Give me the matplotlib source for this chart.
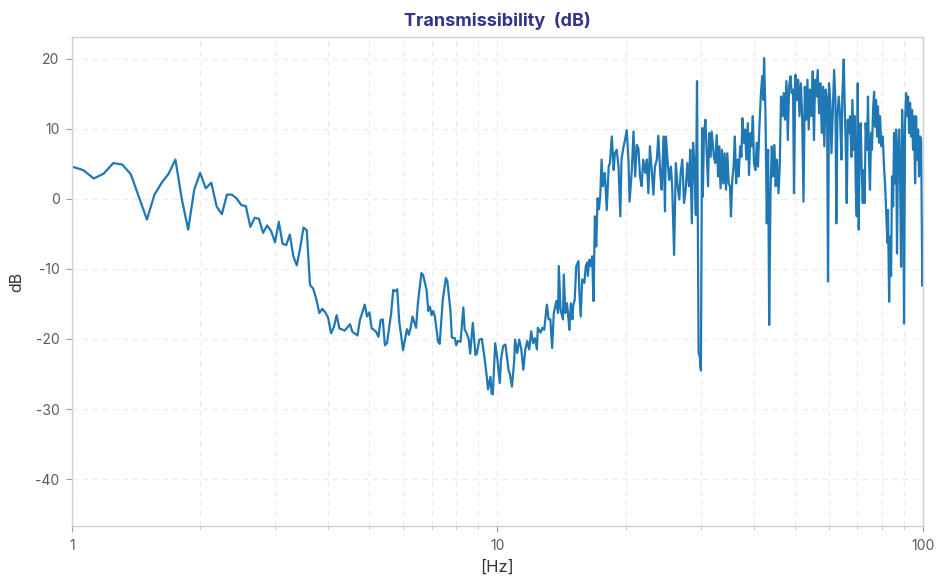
import matplotlib
matplotlib.use("Agg")
import matplotlib.pyplot as plt
from matplotlib.ticker import LogLocator, NullFormatter, FixedLocator, FixedFormatter

plt.rcParams['font.family'] = ['Inter', 'DejaVu Sans']
plt.rcParams['axes.unicode_minus'] = False

# ---- data ----
freq_low = [1.0, 1.0625, 1.125, 1.1875, 1.25, 1.3125, 1.375, 1.5, 1.5625, 1.625, 1.6875, 1.75,
            1.8125, 1.875, 1.9375, 2.0, 2.0625, 2.125, 2.1875, 2.25, 2.3125, 2.375, 2.4375, 2.5,
            2.5625, 2.625, 2.6875, 2.75, 2.8125, 2.875, 2.9375, 3.0, 3.0625, 3.125, 3.1875, 3.25,
            3.3125, 3.375, 3.4375, 3.5, 3.5625, 3.625, 3.6875, 3.75, 3.8125, 3.875, 3.9375, 4.0]
db_low = [4.6, 4.1, 2.9, 3.6, 5.1, 4.9, 3.5, -2.95, 0.6, 2.3, 3.6, 5.6,
          -0.1, -4.4, 1.3, 3.7, 1.5, 2.3, -1.1, -2.2, 0.6, 0.6, 0.05, -0.9,
          -1.05, -4.0, -2.7, -2.86, -4.86, -3.8, -4.6, -6.2, -3.3, -6.4, -6.6, -5.1,
          -8.2, -9.5, -7.0, -4.1, -4.5, -12.3, -12.8, -14.3, -16.3, -15.7, -16.2, -17.0]

freq_mid = [4.0625, 4.125, 4.1875, 4.25, 4.375, 4.5, 4.5625, 4.6875, 4.75, 4.875, 4.9375, 5.0,
            5.0625, 5.125, 5.1875, 5.25, 5.3125, 5.375, 5.4375, 5.5, 5.625, 5.6875, 5.75, 5.8125,
            5.875, 6.0, 6.125, 6.1875, 6.25, 6.3125, 6.4375, 6.5, 6.625, 6.6875, 6.8125, 6.875,
            6.9375, 7.0, 7.0625, 7.125, 7.25, 7.3125, 7.4375, 7.5625, 7.625, 7.75, 7.8125, 7.9375,
            8.0, 8.0625, 8.1875, 8.3125, 8.375, 8.4375, 8.5625, 8.625, 8.75, 8.8125, 8.875, 8.9375,
            9.0625, 9.1875, 9.3125, 9.4375, 9.5, 9.625, 9.6875, 9.75, 9.875]
db_mid = [-19.2, -18.3, -16.6, -18.5, -18.8, -17.9, -19.0, -19.5, -17.3, -15.1, -16.8, -16.2,
          -18.5, -18.7, -19.0, -19.7, -17.3, -17.2, -20.9, -20.6, -16.3, -13.0, -13.2, -12.9,
          -17.5, -21.6, -18.6, -19.4, -18.4, -16.8, -18.4, -14.9, -10.6, -10.9, -13.0, -16.0,
          -15.4, -16.6, -16.0, -16.8, -20.4, -20.7, -14.4, -11.3, -11.8, -15.9, -19.8, -19.9,
          -20.9, -20.3, -20.4, -15.5, -18.7, -19.0, -20.1, -22.1, -17.7, -20.1, -22.3, -22.1,
          -20.1, -20.0, -22.5, -25.4, -27.2, -25.4, -27.8, -27.9, -20.6]

freq_rise = [10.0, 10.125, 10.1875, 10.3125, 10.4375, 10.625, 10.6875, 10.8125, 10.9375, 11.0,
             11.125, 11.25, 11.375, 11.5, 11.625, 11.75, 11.875, 12.0, 12.125, 12.25, 12.375,
             12.4375, 12.625, 12.75, 12.875, 13.0625, 13.1875, 13.3125, 13.4375, 13.5625, 13.75,
             13.875, 13.9375, 14.0625, 14.25, 14.3125, 14.4375, 14.5625, 14.6875, 14.75, 14.875,
             15.0, 15.0625, 15.1875, 15.3125, 15.5, 15.5625, 15.6875, 15.8125, 16.0, 16.125,
             16.25, 16.3125, 16.4375, 16.5625, 16.6875, 16.8125, 16.9375, 17.0625, 17.1875,
             17.3125, 17.4375, 17.5625, 17.6875, 17.8125]
db_rise = [-23.0, -26.3, -23.0, -21.0, -20.8, -24.6, -24.9, -26.8, -23.4, -20.1,
           -22.0, -20.1, -21.5, -24.4, -21.5, -20.3, -21.5, -18.9, -20.6, -19.9, -21.5,
           -18.4, -19.1, -18.4, -18.7, -15.1, -17.2, -17.2, -21.3, -16.3, -14.6,
           -16.3, -9.6, -15.8, -17.2, -10.8, -16.3, -14.9, -17.2, -18.7, -14.9,
           -17.2, -15.3, -14.4, -9.6, -8.9, -13.0, -16.8, -11.5, -12.0, -9.6,
           -9.1, -11.0, -8.7, -9.6, -8.2, -14.6, -2.5, -6.8, 0.1,
           -1.5, 0.4, 5.6, 1.8, 3.2]

freq_band1 = [17.875, 18.0625, 18.25, 18.375, 18.5625, 18.75, 18.875, 19.0625, 19.25, 19.4375,
              19.5625, 19.75, 19.9375, 20.125, 20.3125, 20.4375, 20.6875, 20.875, 21.0625, 21.25,
              21.4375, 21.625, 21.8125, 22.0, 22.25, 22.4375, 22.625, 22.8125, 23.0625, 23.25,
              23.4375, 23.6875, 23.875, 24.125, 24.3125, 24.5625, 24.75, 24.875, 25.125, 25.3125,
              25.5625, 25.75, 26.0, 26.25, 26.5, 26.75, 26.9375, 27.1875, 27.4375, 27.6875,
              27.9375, 28.1875, 28.375, 28.625, 28.8125, 29.0, 29.25, 29.4375, 29.6875, 29.875,
              30.0625, 30.25, 30.375]
db_band1 = [3.7, -1.6, 4.6, 5.1, 8.9, 4.1, 6.5, 7.0, 4.6, -2.5,
            5.6, 7.2, 8.4, 9.8, 5.6, -0.4, 4.1, 9.6, 3.2, 7.7,
            7.2, 3.2, 1.8, 5.6, 3.7, 5.6, 0.8, 7.5, 3.7, 0.6,
            4.6, 5.6, 9.0, 3.7, 1.3, 8.9, -1.8, 8.9, 5.1, 2.7,
            4.6, 1.3, -8.0, 5.1, 1.8, -0.1, 3.7, 5.6, -0.6, 1.3,
            5.1, 1.8, 7.0, -3.5, 8.0, 5.6, -2.3, 16.8, -22.0, -22.5,
            -24.5, 10.1, 0.3]

freq_band2 = [30.5625, 30.8125, 31.0, 31.25, 31.4375, 31.6875, 31.875, 32.25, 32.5, 32.75,
              33.0, 33.1875, 33.4375, 33.6875, 33.9375, 34.1875, 34.4375, 34.6875, 34.9375,
              35.1875, 35.375, 35.625, 35.875, 36.125, 36.375, 36.625, 36.875, 37.1875, 37.4375,
              37.625, 37.9375, 38.1875, 38.4375, 38.75, 39.0, 39.3125, 39.5625, 39.8125, 40.0625,
              40.375, 40.6875, 40.9375, 41.25, 41.5625, 41.875, 42.1875, 42.3125, 42.625, 42.9375,
              43.25, 43.5, 43.8125, 44.125, 44.4375, 44.75, 45.0625, 45.375, 45.75, 46.0625,
              46.375, 46.75, 47.0625, 47.375, 47.75, 48.125, 48.4375, 48.8125, 49.125, 49.5,
              49.75, 50.125, 50.5, 50.875, 51.25, 51.625, 52.0, 52.375, 52.75, 53.125, 53.5,
              53.875]
db_band2 = [9.4, 11.3, 7.0, 1.8, 9.4, 6.0, 9.6, 6.0, 5.1, 9.1,
            3.2, 7.5, 1.5, 7.0, 2.2, 6.5, 1.3, 6.5, 2.2,
            1.8, -2.5, 2.7, 4.6, 8.9, 2.2, 5.6, 3.2, 7.5, 6.0,
            11.5, 8.0, 9.9, 5.6, 10.8, 3.4, 9.4, 7.5, 11.8, 5.1,
            4.1, 8.0, 4.6, 10.1, 14.6, 17.5, 14.1, 20.1, 12.7, -3.5,
            7.0, -18.0, 0.8, 7.5, 3.2, 7.7, 1.8, 5.6, 0.8, 4.6,
            14.6, 11.8, 15.1, 11.3, 16.8, 8.4, 16.0, 17.5, 15.1, 15.6,
            0.8, 17.7, 14.1, 17.0, 11.8, 16.5, 11.8, -0.4, 16.0, 11.3, 17.0,
            9.9]

freq_band3 = [54.25, 54.6875, 55.0625, 55.4375, 55.75, 56.125, 56.5625, 57.0, 57.375, 57.8125,
              58.25, 58.625, 59.0625, 59.5, 59.8125, 60.125, 60.5625, 60.9375, 61.375, 61.8125,
              62.25, 62.5625, 62.9375, 63.375, 63.8125, 64.3125, 64.625, 65.125, 65.5, 65.8125,
              66.1875, 66.5625, 67.0, 67.375, 67.875, 68.25, 68.75, 69.125, 69.5, 69.875,
              70.25, 70.625, 71.0, 71.375, 71.75, 72.1875, 72.5625, 72.9375, 73.3125, 73.875,
              74.25, 74.6875, 75.0625, 75.5, 75.875, 76.3125, 76.75, 77.125, 77.5625, 78.0,
              78.375, 78.8125, 79.25, 79.8125, 80.4375, 81.0, 81.5625, 82.0, 82.5, 82.75,
              83.25, 83.6875, 84.125, 84.5625, 85.0625, 85.5, 86.0, 86.4375, 86.875, 87.375,
              87.875, 88.3125, 88.8125, 89.3125, 89.75, 90.25, 90.75, 91.25, 91.75, 92.25,
              92.75, 93.25, 93.75, 94.25, 94.75, 95.25, 95.8125, 96.3125, 96.875, 97.375,
              97.875, 98.4375, 99.0, 99.625, 100.0]
db_band3 = [15.6, 11.8, 18.2, 8.4, 17.0, 14.6, 18.4, 12.2, 16.5, 9.4,
            16.0, 7.5, 15.6, 14.1, -11.8, 16.5, 13.7, 6.5, 12.7, 18.4,
            14.1, -3.5, 11.8, 14.6, 12.2, 5.6, 14.6, 19.9, 12.7, 8.0,
            -0.6, 11.3, 9.4, 11.8, 6.0, 14.1, 7.0, 11.8, 1.8, -2.5,
            16.5, -4.4, 8.0, 10.8, 4.6, -0.6, 4.1, -0.6, 10.8, 7.0,
            14.6, 5.1, 1.3, 9.4, 7.0, 12.7, 15.3, 10.3, 14.1, 8.9,
            13.2, 8.0, 11.8, 7.5, 8.9, 4.6, 1.3, -2.5, -6.3, -1.6,
            -14.7, -5.4, -11.0, 3.2, -1.1, 9.4, 2.2, 9.9, -7.8, 7.0,
            9.9, 3.7, -9.7, 12.7, 7.0, -17.8, 10.8, 15.1, 11.8, 14.6,
            9.4, 13.7, 8.9, 12.7, 7.0, 11.8, 2.2, 11.8, 5.6, 9.9,
            3.2, 8.9, 8.4, -12.4, -3.0]

freq = freq_low + freq_mid + freq_rise + freq_band1 + freq_band2 + freq_band3
db = db_low + db_mid + db_rise + db_band1 + db_band2 + db_band3

y_ticks = [-40, -30, -20, -10, 0, 10, 20]
x_tick_labels = ["1", "10", "100"]

# ---- figure ----
fig = plt.figure(figsize=(9.48, 5.87), dpi=100)
ax = fig.add_axes([72/948, 1-526/587, (923-72)/948, (526-37)/587])

ax.plot(freq, db, color='#1f77b4', linewidth=1.6)

ax.set_xscale('log')
ax.set_xlim(1, 100)
ax.set_ylim(-46.7, 23.1)

ax.xaxis.set_major_locator(FixedLocator([1, 10, 100]))
ax.xaxis.set_major_formatter(FixedFormatter(x_tick_labels))
ax.xaxis.set_minor_locator(LogLocator(base=10, subs=range(2, 10)))
ax.xaxis.set_minor_formatter(NullFormatter())
ax.set_yticks(y_ticks)

ax.grid(True, which='major', color='#ececf0', linestyle=(0, (5, 4)), linewidth=0.8)
ax.grid(True, which='minor', axis='x', color='#ececf0', linestyle=(0, (5, 4)), linewidth=0.8)
ax.set_axisbelow(True)

for s in ax.spines.values():
    s.set_color('#cfcfd6')
    s.set_linewidth(1.0)

ax.tick_params(axis='both', which='major', length=4, width=0.8, color='#9a9aa0',
               labelsize=10, labelcolor='#5a5a60', pad=5)
ax.tick_params(axis='x', which='minor', length=2.5, width=0.6, color='#b0b0b6')

ax.set_xlabel('[Hz]', fontsize=12, color='#333333', labelpad=5)
ax.set_ylabel('dB', fontsize=11.5, color='#333333', labelpad=8)
ax.set_title('Transmissibility  (dB)', fontsize=13, fontweight='bold', color='#33338a', pad=8)

fig.savefig('out.png', dpi=100)
